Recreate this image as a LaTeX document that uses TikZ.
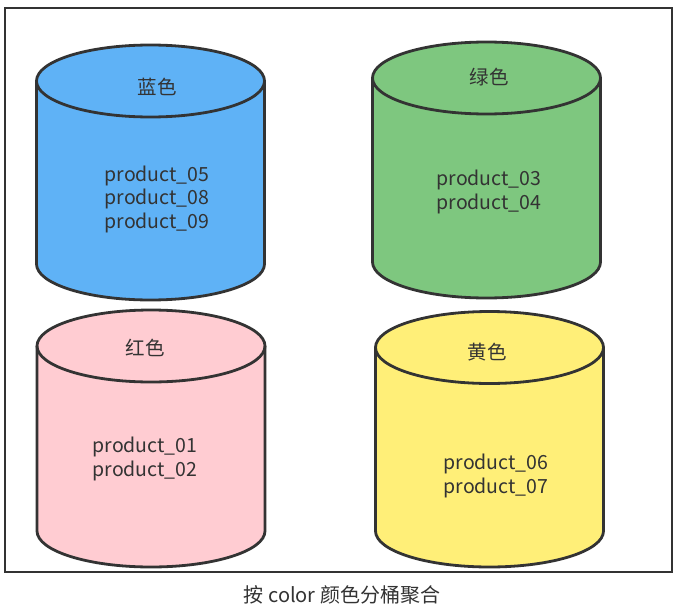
\documentclass[tikz,border=0pt]{standalone}
\usepackage{fontspec}
\setmainfont{Noto Sans CJK SC}
\definecolor{ink}{HTML}{333333}
\definecolor{cblue}{HTML}{5FB2F6}
\definecolor{cgreen}{HTML}{7EC77F}
\definecolor{cpink}{HTML}{FFCCD2}
\definecolor{cyellow}{HTML}{FFEF78}
\tikzset{
  cylline/.style={draw=ink, line width=2.8pt, line join=round},
  frameline/.style={draw=ink, line width=2.6pt},
  cyllabel/.style={text=ink, font=\fontsize{19.5}{22}\selectfont, inner sep=0pt},
  prodtext/.style={text=ink, font=\fontsize{19.5}{23.5}\selectfont, align=center, inner sep=0pt},
  captext/.style={text=ink, font=\fontsize{20}{22}\selectfont, inner sep=0pt}
}
% #1 cx, #2 top-ellipse centre y, #3 bottom-ellipse centre y, #4 colour
\newcommand{\mycyl}[4]{%
  \fill[#4] (#1-114,#2) -- (#1-114,#3) arc[start angle=180,end angle=360,x radius=114pt,y radius=36pt]
    -- (#1+114,#2) arc[start angle=0,end angle=180,x radius=114pt,y radius=36pt] -- cycle;
  \draw[cylline] (#1-114,#2) -- (#1-114,#3) arc[start angle=180,end angle=360,x radius=114pt,y radius=36pt]
    -- (#1+114,#2) arc[start angle=0,end angle=180,x radius=114pt,y radius=36pt] -- cycle;
  \draw[cylline] (#1-114,#2) arc[start angle=180,end angle=360,x radius=114pt,y radius=36pt];
}
\begin{document}
\begin{tikzpicture}[x=1pt,y=1pt]
\useasboundingbox[fill=white] (0,0) rectangle (679,-610);
\draw[frameline] (5,-8) rectangle (672,-572);

\mycyl{150.5}{-81}{-264}{cblue}
\mycyl{486.5}{-78}{-262}{cgreen}
\mycyl{151}{-346}{-531}{cpink}
\mycyl{489.5}{-347.5}{-531}{cyellow}

\node[cyllabel] (lblue) at (157,-87) {蓝色};
\node[cyllabel] (lgreen) at (489,-77) {绿色};
\node[cyllabel] (lred) at (145,-348) {红色};
\node[cyllabel] (lyellow) at (487,-352) {黄色};

\node[prodtext] (pblue) at (157,-199) {product\_05\\product\_08\\product\_09};
\node[prodtext] (pgreen) at (489,-192) {product\_03\\product\_04};
\node[prodtext] (pred) at (145,-459) {product\_01\\product\_02};
\node[prodtext] (pyellow) at (496,-476) {product\_06\\product\_07};

\node[captext] (cap) at (342,-595) {按 color 颜色分桶聚合};
\end{tikzpicture}
\end{document}
